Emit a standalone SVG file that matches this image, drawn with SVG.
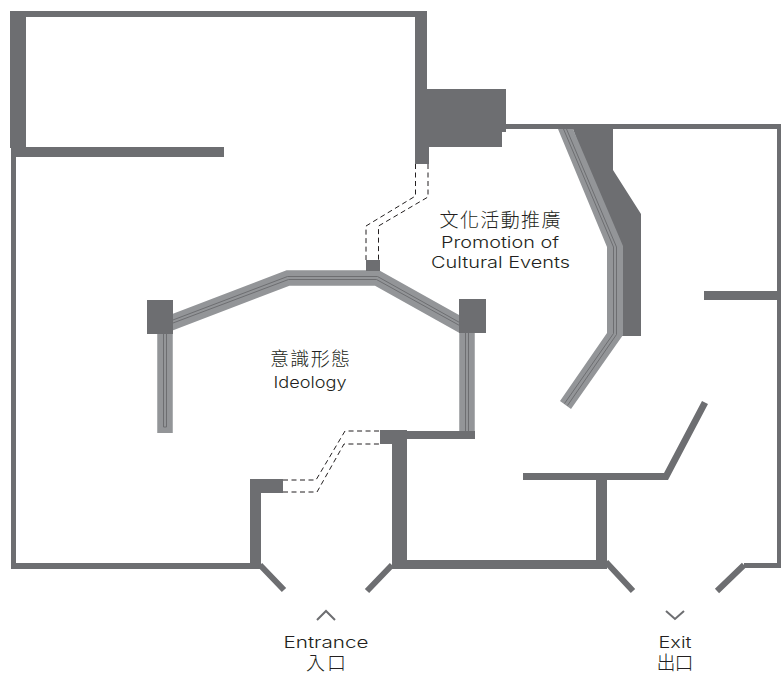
<svg xmlns="http://www.w3.org/2000/svg" width="781" height="673" viewBox="0 0 781 673">
<style>
.wall{fill:#6d6e71}
.door{fill:none;stroke:#6d6e71;stroke-width:6}
.band{fill:none;stroke:#939598;stroke-width:15.5;stroke-linejoin:miter}
.bandf{fill:#939598}
.line{fill:none;stroke:#6d6e71;stroke-width:1}
.dash{fill:none;stroke:#231f20;stroke-width:1;stroke-dasharray:5 3.5}
.chev{fill:none;stroke:#6d6e71;stroke-width:2}
text{font-family:"Inter","Noto Sans CJK TC",sans-serif;font-weight:300;fill:#231f20;text-anchor:middle}
.en{font-size:16px}
.zh{font-size:19px;font-family:"Noto Sans CJK TC",sans-serif}
</style>
<rect width="781" height="673" fill="#fff"/>
<g id="partition-east">
<path class="wall" d="M573 129H613V170L641 214V336H615V247Z"/>
<path class="bandf" d="M558 129L607 247V333L560 401L571 409L623 335V246L573 129Z"/>
<path class="line" d="M563.500 129L613.500 247V333.500L564.500 403.500M566.500 129L616.500 247V334.500L567.500 405.500"/>
</g>
<g id="partition-ideology">
<path class="band" d="M160 327L288 278H377L470 330"/>
<path class="line" d="M165 323L287.500 276.500H377.500L465 325.500M165 326L288.500 279.500H376.500L465 328.500"/>
<path class="band" d="M165 325V433M467 325V432"/>
<path class="line" d="M163.500 334V427H166.500V334M465.500 333V431M468.500 333V431"/>
<rect class="wall" x="147" y="300" width="26" height="34"/>
<rect class="wall" x="459" y="299" width="27" height="34"/>
<rect class="wall" x="366" y="260" width="14" height="11"/>
</g>
<g id="walls">
<path class="wall" d="M10 11H427V89H506V124H781V568H744V563H777V129H506V132H502V147H429V164H415V17H26V147H224V157H16V563H250V479H283V493H261V569H11V148H10Z"/>
<path class="wall" d="M380 430H407V431H475V439H407V560H596V480H523V473H664L702 401L708 404L668 480H607V569H392V444H380Z"/>
<path class="wall" d="M704 291H777V300H704Z"/>
<path class="door" d="M260 565L284 590M392 565L367 591M606 562L633 591M744 565L717 591"/>
</g>
<g id="connectors">
<path class="dash" d="M415.500 164V196L366 226V260M428 164V197L378.500 226V260"/>
<path class="dash" d="M283 480H316L345 431H380M283 492H317L344 444H380"/>
<path class="chev" d="M317 620L326 611L335 620M666 611L675 619L684 611"/>
</g>
<g id="label-promotion">
<text class="zh" x="500" y="227" textLength="121" lengthAdjust="spacing">文化活動推廣</text>
<text class="en" x="500" y="248" textLength="118" lengthAdjust="spacingAndGlyphs">Promotion of</text>
<text class="en" x="500.500" y="268" textLength="139" lengthAdjust="spacingAndGlyphs">Cultural Events</text>
</g>
<g id="label-ideology">
<text class="zh" x="310" y="366" textLength="80" lengthAdjust="spacing">意識形態</text>
<text class="en" x="310" y="388" textLength="73" lengthAdjust="spacingAndGlyphs">Ideology</text>
</g>
<g id="label-entrance">
<text class="en" x="326" y="648" textLength="85" lengthAdjust="spacingAndGlyphs">Entrance</text>
<text class="zh" x="326" y="670" textLength="40" lengthAdjust="spacing">入口</text>
</g>
<g id="label-exit">
<text class="en" x="675" y="648" textLength="33" lengthAdjust="spacingAndGlyphs">Exit</text>
<text class="zh" x="675" y="670" textLength="37" lengthAdjust="spacing">出口</text>
</g>
</svg>
